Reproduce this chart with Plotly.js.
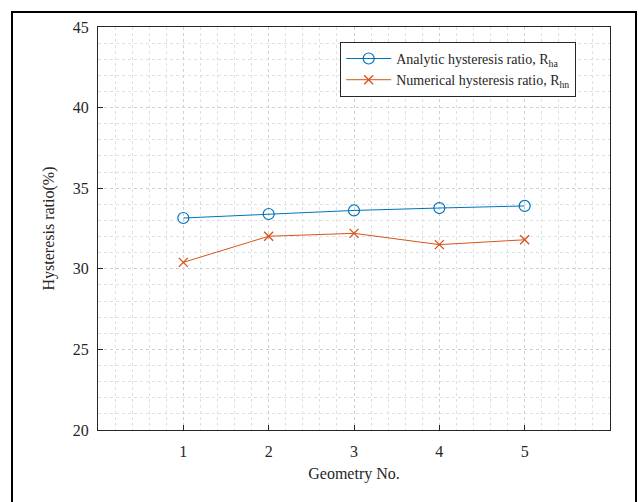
<!DOCTYPE html>
<html>
<head>
<meta charset="utf-8">
<script src="https://cdn.plot.ly/plotly-3.0.1.min.js"></script>
<style>
html,body{margin:0;padding:0;background:#fff;}
#frame{position:absolute;left:11px;top:11px;width:626px;height:500px;border:2px solid #000;box-sizing:border-box;pointer-events:none;z-index:10;}
#plot{position:absolute;left:0;top:0;width:639px;height:502px;}
</style>
</head>
<body>
<div id="plot"></div>
<div id="frame"></div>
<script>
const geometry = [1, 2, 3, 4, 5];
const analytic = [33.15, 33.4, 33.62, 33.77, 33.9];
const numerical = [30.4, 32.02, 32.2, 31.5, 31.8];
const xTicks = [1, 2, 3, 4, 5];
const yTicks = [20, 25, 30, 35, 40, 45];

const fontFam = 'Liberation Serif, serif';
const traces = [
  {x: geometry, y: analytic, mode: 'lines+markers', name: 'Analytic hysteresis ratio, R<sub>ha</sub>',
   line: {color: '#0072BD', width: 1},
   marker: {symbol: 'circle-open', size: 11, color: '#0072BD', line: {width: 1.2}}},
  {x: geometry, y: numerical, mode: 'lines+markers', name: 'Numerical hysteresis ratio, R<sub>hn</sub>',
   line: {color: '#D95319', width: 1},
   marker: {symbol: 'x-thin-open', size: 9, color: '#D95319', line: {width: 1.3, color: '#D95319'}}}
];
const axisCommon = {
  showline: true, linecolor: '#262626', linewidth: 1, mirror: true,
  ticks: 'inside', ticklen: 5, tickcolor: '#262626',
  showgrid: true, gridcolor: '#d0d0d0', griddash: 'dot', gridwidth: 1,
  zeroline: false, tickfont: {family: fontFam, size: 16, color: '#262626'}
};
const layout = {
  width: 639, height: 502,
  margin: {l: 97.5, r: 28.5, t: 27, b: 72},
  paper_bgcolor: '#fff', plot_bgcolor: '#fff',
  font: {family: fontFam, color: '#262626'},
  xaxis: Object.assign({}, axisCommon, {
    range: [0, 6], tickvals: xTicks, ticktext: xTicks.map(String), ticklabelstandoff: 7,
    minor: {dtick: 0.2, tick0: 0, showgrid: true, gridcolor: '#e0e0e0', griddash: 'dot', gridwidth: 1},
    title: {text: 'Geometry No.', font: {family: fontFam, size: 16, color: '#262626'}, standoff: 8}
  }),
  yaxis: Object.assign({}, axisCommon, {
    range: [20, 45], tickvals: yTicks, ticktext: yTicks.map(String), ticklabelstandoff: 5,
    minor: {dtick: 1, tick0: 20, showgrid: true, gridcolor: '#e0e0e0', griddash: 'dot', gridwidth: 1},
    title: {text: 'Hysteresis ratio(%)', font: {family: fontFam, size: 16, color: '#262626'}, standoff: 14}
  }),
  legend: {x: 0.473, y: 0.963, xanchor: 'left', yanchor: 'top',
    bgcolor: '#fff', bordercolor: '#262626', borderwidth: 1, itemwidth: 45,
    font: {family: fontFam, size: 14, color: '#262626'}, tracegroupgap: 2},
  showlegend: true
};
Plotly.newPlot('plot', traces, layout, {displayModeBar: false, staticPlot: true});
</script>
</body>
</html>
